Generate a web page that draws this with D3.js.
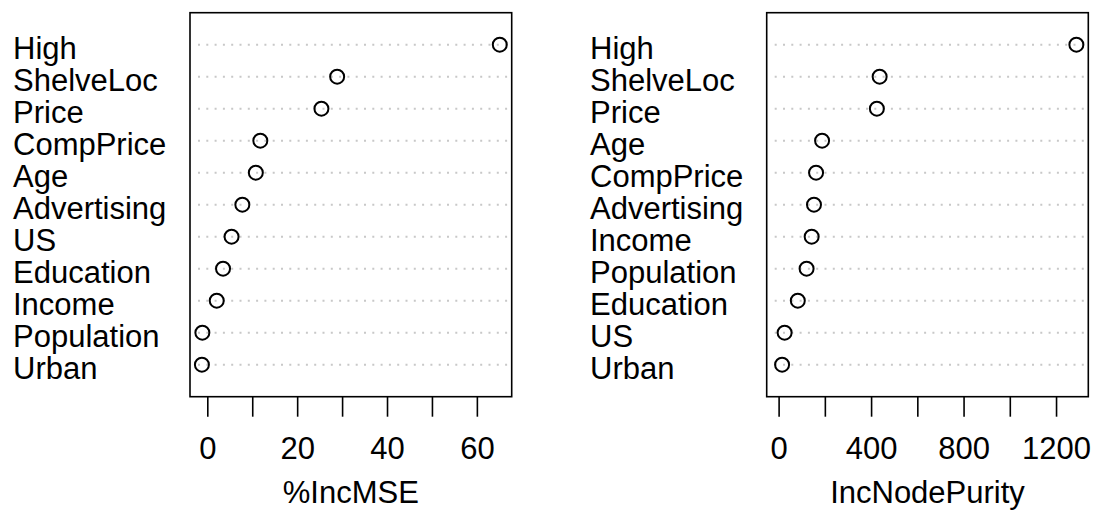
<!DOCTYPE html>
<html>
<head>
<meta charset="utf-8">
<script src="https://cdn.jsdelivr.net/npm/d3@7"></script>
<style>
  html, body { margin: 0; padding: 0; background: #fff; }
  svg { display: block; font-family: "Liberation Sans", Arial, Helvetica, sans-serif; }
</style>
</head>
<body>
<svg id="chart" width="1094" height="510"></svg>
<script>
// Variable importance, random forest on Carseats (Sales)
const mseLabels = ["High", "ShelveLoc", "Price", "CompPrice", "Age", "Advertising",
                   "US", "Education", "Income", "Population", "Urban"];
const mseValues = [65.1, 28.9, 25.4, 11.8, 10.8, 7.8, 5.4, 3.5, 2.1, -1.1, -1.2];
const mseTicks = [0, 10, 20, 30, 40, 50, 60];
const mseTickLabels = [0, 20, 40, 60];

const purityLabels = ["High", "ShelveLoc", "Price", "Age", "CompPrice", "Advertising",
                      "Income", "Population", "Education", "US", "Urban"];
const purityValues = [1288, 437, 425, 188, 162, 153, 143, 121, 83, 26, 15];
const purityTicks = [0, 200, 400, 600, 800, 1000, 1200];
const purityTickLabels = [0, 400, 800, 1200];

const svg = d3.select("#chart");
const FONT = 31;

function dotPanel(opts) {
  const { labels, values, ticks, tickLabels, title, box, labelX, xmin } = opts;
  const n = labels.length;
  const g = svg.append("g");

  // x limits as in dotchart: data range, padded 4% each side
  const lo = xmin !== undefined ? xmin : d3.min(values);
  const hi = d3.max(values);
  const pad = 0.04 * (hi - lo);
  const x = d3.scaleLinear().domain([lo - pad, hi + pad]).range([box.left, box.right]);
  const y = d3.scaleLinear().domain([0, n + 1]).range([box.bottom, box.top]);

  const rows = labels.map((lab, i) => ({ label: lab, value: values[i], pos: n - i }));

  // dotted guide lines
  g.selectAll("line.guide").data(rows).join("line")
    .attr("class", "guide")
    .attr("x1", box.left + 8).attr("x2", box.right - 2)
    .attr("y1", d => y(d.pos)).attr("y2", d => y(d.pos))
    .attr("stroke", "#c8c8c8").attr("stroke-width", 2)
    .attr("stroke-dasharray", "2,6.3");

  // points
  g.selectAll("circle").data(rows).join("circle")
    .attr("cx", d => x(d.value)).attr("cy", d => y(d.pos))
    .attr("r", 7).attr("fill", "none")
    .attr("stroke", "#000").attr("stroke-width", 2);

  // row labels
  g.selectAll("text.lab").data(rows).join("text")
    .attr("class", "lab")
    .attr("x", labelX).attr("y", d => y(d.pos) + 14)
    .attr("font-size", FONT).attr("fill", "#000")
    .text(d => d.label);

  // frame
  g.append("rect")
    .attr("x", box.left).attr("y", box.top)
    .attr("width", box.right - box.left).attr("height", box.bottom - box.top)
    .attr("fill", "none").attr("stroke", "#000").attr("stroke-width", 1.6);

  // x axis
  const axis = d3.axisBottom(x)
    .tickValues(ticks)
    .tickSize(20)
    .tickPadding(20)
    .tickFormat(v => tickLabels.includes(v) ? String(v) : "");
  const ax = g.append("g")
    .attr("transform", `translate(0,${box.bottom})`)
    .call(axis);
  ax.select(".domain").remove();
  ax.selectAll(".tick line").attr("stroke", "#000").attr("stroke-width", 1.6);
  ax.selectAll(".tick text").attr("font-size", FONT).attr("fill", "#000")
    .attr("font-family", "Liberation Sans, Arial, sans-serif");

  // axis title
  g.append("text")
    .attr("x", (box.left + box.right) / 2).attr("y", 503)
    .attr("text-anchor", "middle")
    .attr("font-size", FONT).attr("fill", "#000")
    .text(title);
}

dotPanel({
  labels: mseLabels, values: mseValues, ticks: mseTicks, tickLabels: mseTickLabels,
  title: "%IncMSE",
  box: { left: 190, right: 511.7, top: 12.7, bottom: 396.7 },
  labelX: 13
});

dotPanel({
  labels: purityLabels, values: purityValues, ticks: purityTicks, tickLabels: purityTickLabels,
  title: "IncNodePurity",
  box: { left: 766.7, right: 1088.3, top: 12.7, bottom: 396.7 },
  labelX: 590, xmin: 0
});
</script>
</body>
</html>
